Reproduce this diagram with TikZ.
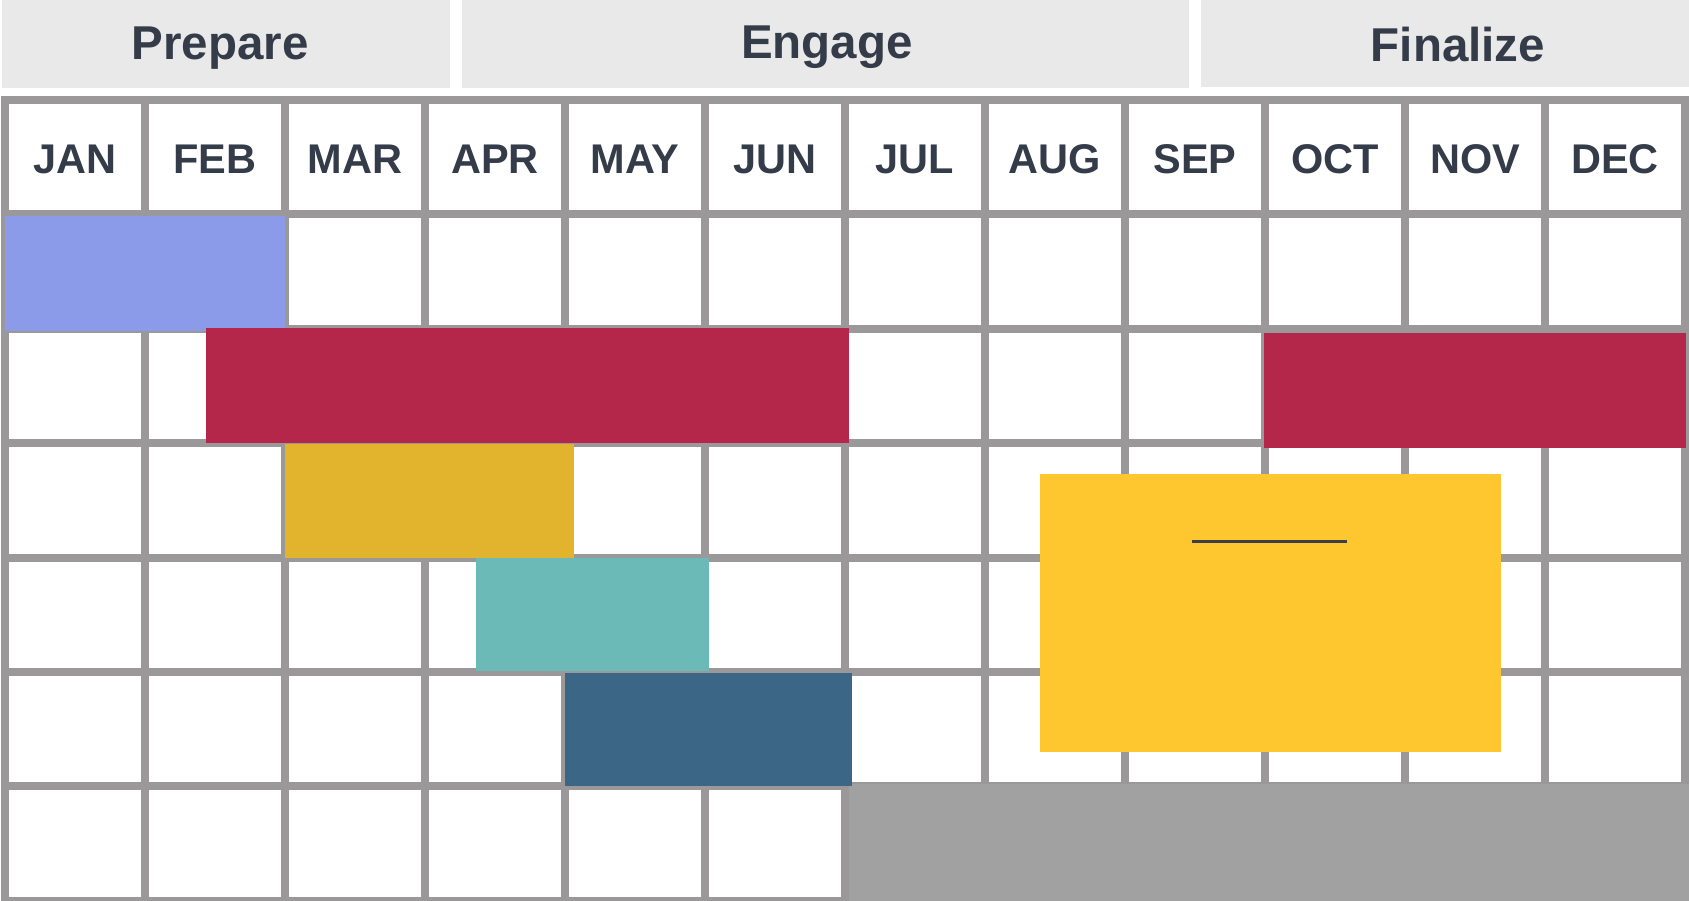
\documentclass[tikz,border=0pt]{standalone}
\usepackage{fontspec}
\setmainfont{Liberation Sans}
\definecolor{txt}{RGB}{53,60,73}
\definecolor{gridc}{RGB}{154,152,153}
\definecolor{hdr}{RGB}{233,233,233}
\definecolor{cblue}{RGB}{140,155,233}
\definecolor{cred}{RGB}{181,39,74}
\definecolor{cgold}{RGB}{226,179,44}
\definecolor{cteal}{RGB}{107,186,184}
\definecolor{cnavy}{RGB}{59,102,133}
\definecolor{cgray}{RGB}{161,161,161}
\definecolor{cyel}{RGB}{255,199,47}
\definecolor{cline}{RGB}{58,63,74}
\tikzset{
  phasebox/.style={fill=hdr, draw=none, inner sep=0pt, anchor=north west},
  phasetxt/.style={text=txt, font=\bfseries\fontsize{47.5}{57}\selectfont, anchor=base, inner sep=0pt},
  monthtxt/.style={text=txt, font=\bfseries\fontsize{41.5}{50}\selectfont, anchor=base, inner sep=0pt},
  gridline/.style={draw=gridc, line width=8pt},
  bar/.style={draw=none, inner sep=0pt, anchor=north west}
}
\begin{document}
\begin{tikzpicture}[x=1pt,y=-1pt]
\useasboundingbox (0,0) rectangle (1689,901);
\fill[white] (0,0) rectangle (1689,901);
% phase header boxes
\node[phasebox, minimum width=448pt, minimum height=88pt] (prep) at (2,0) {};
\node[phasebox, minimum width=726.5pt, minimum height=87.7pt] (eng) at (462,0) {};
\node[phasebox, minimum width=488pt, minimum height=86.7pt] (fin) at (1201,0) {};
\node[phasetxt] (prept) at (220,60) {Prepare};
\node[phasetxt] (engt) at (827,58.3) {Engage};
\node[phasetxt] (fint) at (1458,61.7) {Finalize};
% grid
\foreach \k in {0,...,12} {
  \draw[gridline] ({5+140*\k},96.5) -- ({5+140*\k},901);
}
\foreach \yy in {100.5,214.5,329,443.3,557.7,672,786.3,900.6} {
  \draw[gridline] (1,\yy) -- (1689,\yy);
}
% month labels
\foreach \m [count=\i from 0] in {JAN,FEB,MAR,APR,MAY,JUN,JUL,AUG,SEP,OCT,NOV,DEC} {
  \node[monthtxt] (m\i) at ({75+140*\i},174) {\m};
}
% bars
\node[bar, fill=cblue, minimum width=280pt, minimum height=115pt] (b1) at (5,215.5) {};
\node[bar, fill=cred, minimum width=643pt, minimum height=114.7pt] (b2) at (206,328) {};
\node[bar, fill=cred, minimum width=422.7pt, minimum height=115pt] (b3) at (1263.3,332.7) {};
\node[bar, fill=cgold, minimum width=288.7pt, minimum height=114pt] (b4) at (285,444) {};
\node[bar, fill=cteal, minimum width=233pt, minimum height=112.7pt] (b5) at (476,558) {};
\node[bar, fill=cgray, minimum width=840.3pt, minimum height=117pt] (b7) at (848.7,784) {};
\node[bar, fill=cnavy, minimum width=286.7pt, minimum height=112.7pt] (b6) at (565,673) {};
\node[bar, fill=cyel, minimum width=461pt, minimum height=277.5pt] (b8) at (1039.5,474) {};
\coordinate (la) at (1191.7,541.5);
\coordinate (lb) at (1346.5,541.5);
\draw[cline, line width=2.5pt] (la) -- (lb);
\end{tikzpicture}
\end{document}
